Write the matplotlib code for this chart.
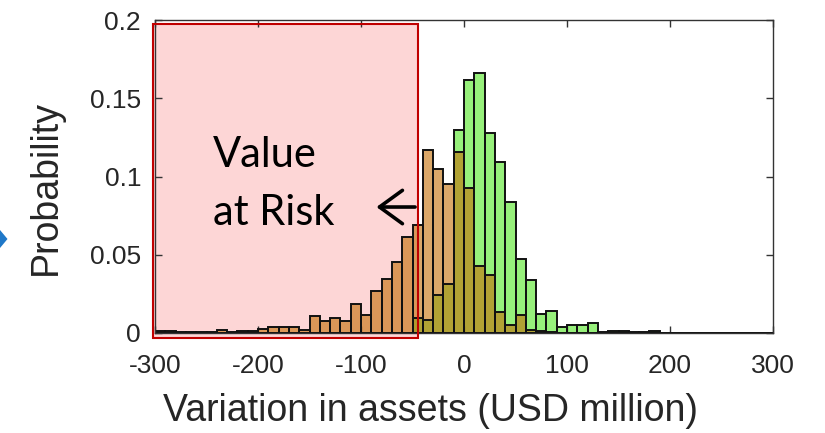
import numpy as np
import matplotlib
matplotlib.use('Agg')
import matplotlib.pyplot as plt
from matplotlib.patches import Rectangle, Polygon

# histogram bins (USD million), 10 wide from -300 to 300
bin_edges = np.arange(-300, 301, 10)

# bar heights, one per bin
orange_prob = [0.001, 0.0015, 0.0005, 0.0005, 0.0005, 0.0005, 0.002, 0.0008, 0.0012, 0.0012,
               0.0026, 0.0036, 0.0036, 0.0036, 0.0021, 0.0106, 0.0075, 0.0096, 0.0075, 0.0187,
               0.0117, 0.0266, 0.0345, 0.0454, 0.0613, 0.069, 0.117, 0.105, 0.095, 0.1155,
               0.0927, 0.043, 0.0373, 0.0134, 0.0049, 0.0117, 0.0017, 0.001, 0.0005, 0.0,
               0.0, 0.0, 0.0, 0.0, 0.0, 0.0, 0.0, 0.0, 0.0, 0.0,
               0.0, 0.0, 0.0, 0.0, 0.0, 0.0, 0.0, 0.0, 0.0, 0.0]
green_prob = [0.0, 0.0, 0.0, 0.0, 0.0, 0.0, 0.0, 0.0, 0.0, 0.0,
              0.0, 0.0, 0.0, 0.0, 0.0, 0.0, 0.0, 0.0, 0.0, 0.0,
              0.0, 0.0, 0.0, 0.0, 0.0, 0.0096, 0.008, 0.024, 0.031, 0.130,
              0.1618, 0.166, 0.128, 0.109, 0.0837, 0.047, 0.034, 0.0123, 0.0138, 0.0038,
              0.0053, 0.0053, 0.0064, 0.0005, 0.001, 0.001, 0.0005, 0.0005, 0.001, 0.0,
              0.0, 0.0, 0.0, 0.0, 0.0, 0.0, 0.0, 0.0, 0.0, 0.0]

x_ticks = [-300, -200, -100, 0, 100, 200, 300]
y_ticks = [0, 0.05, 0.1, 0.15, 0.2]
y_tick_labels = ['0', '0.05', '0.1', '0.15', '0.2']

var_limit = -45  # right edge of the shaded "Value at Risk" box

plt.rcParams['font.family'] = ['Liberation Sans', 'DejaVu Sans']
plt.rcParams['axes.unicode_minus'] = False

fig = plt.figure(figsize=(8.25, 4.33), dpi=100)
ax = fig.add_axes([155 / 825, 100 / 433, 618 / 825, 313 / 433])

# shaded box behind the bars
ax.add_patch(Rectangle((-302, -0.0035), var_limit + 302, 0.201, facecolor='#fdd6d6',
                       edgecolor='none', zorder=0.5, clip_on=False))

lefts = bin_edges[:-1]
ax.bar(lefts, green_prob, width=10, align='edge', color=(0.32, 0.9, 0.14), alpha=0.6,
       edgecolor='none', zorder=2)
ax.bar(lefts, orange_prob, width=10, align='edge', color=(0.77, 0.43, 0.02), alpha=0.6,
       edgecolor='none', zorder=3)
# bar outlines, fully opaque
ax.bar(lefts, green_prob, width=10, align='edge', fill=False, edgecolor='#111111',
       linewidth=1.4, zorder=3.5)
ax.bar(lefts, orange_prob, width=10, align='edge', fill=False, edgecolor='#111111',
       linewidth=1.4, zorder=3.5)

# box border on top
ax.add_patch(Rectangle((-302, -0.0035), var_limit + 302, 0.201, facecolor='none',
                       edgecolor='#c00000', linewidth=1.5, zorder=5, clip_on=False))

ax.text(-243.5, 0.1063, 'Value', family=['Lato', 'DejaVu Sans'], fontsize=30,
        va='baseline', ha='left', zorder=6)
ax.text(-243.5, 0.0692, 'at Risk', family=['Lato', 'DejaVu Sans'], fontsize=30,
        va='baseline', ha='left', zorder=6)
ax.annotate('', xy=(-85, 0.0805), xytext=(-47.5, 0.0805),
            arrowprops=dict(arrowstyle='->,head_length=0.55,head_width=0.4', lw=2.6,
                            color='black', shrinkA=0, shrinkB=0, mutation_scale=30),
            zorder=6)

ax.set_xlim(-300, 300)
ax.set_ylim(0, 0.2)
ax.set_xticks(x_ticks)
ax.set_yticks(y_ticks)
ax.set_yticklabels(y_tick_labels)
ax.tick_params(direction='in', top=True, right=True, length=5, width=1,
               colors='#333333', labelcolor='#262626', labelsize=19)
ax.tick_params(axis='x', pad=15)
ax.tick_params(axis='y', pad=10)
for s in ax.spines.values():
    s.set_color('#333333')
    s.set_linewidth(1.0)
    s.set_zorder(4)

ax.set_xlabel('Variation in assets (USD million)', fontsize=27, color='#262626')
ax.set_ylabel('Probability', fontsize=27, color='#262626')
ax.xaxis.set_label_coords(0.445, -0.192)
ax.yaxis.set_label_coords(-0.147, 0.466)

# partial blue arrowhead at the left edge of the slide
fig.patches.append(Polygon([(0, 1 - 230 / 433), (7.5 / 825, 1 - 239 / 433), (0, 1 - 248 / 433)],
                           closed=True, transform=fig.transFigure, facecolor='#1f78c8',
                           edgecolor='none', figure=fig))

fig.savefig('out.png', dpi=100)
